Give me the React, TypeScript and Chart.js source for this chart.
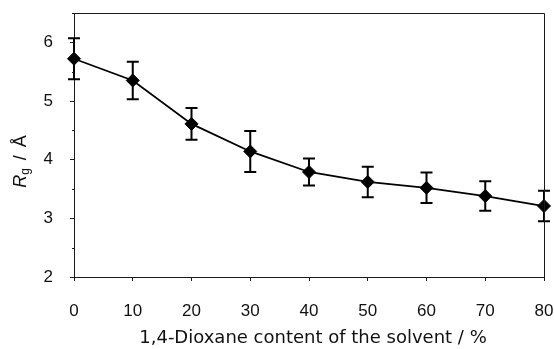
import React, { useEffect, useRef } from "react";
import { Chart, registerables } from "chart.js";

Chart.register(...registerables);

const dioxaneContent = [0, 10, 20, 30, 40, 50, 60, 70, 80];
const rgValues = [5.72, 5.35, 4.61, 4.14, 3.79, 3.62, 3.52, 3.38, 3.21];
const rgErrors = [0.35, 0.32, 0.27, 0.35, 0.23, 0.26, 0.26, 0.25, 0.26];
const xTitle = "1,4-Dioxane content of the solvent / %";
const yTitleMain = "R";
const yTitleSub = "g";
const yTitleSlash = "/";
const yTitleUnit = "Å";

const AXIS = "#1a1a1a";
const TICK_FONT = '"Liberation Sans", Arial, sans-serif';

const errorBarPlugin = {
  id: "errorBars",
  beforeDatasetsDraw(chart: any) {
    const { ctx } = chart;
    const xs = chart.scales.x;
    const ys = chart.scales.y;
    ctx.save();
    ctx.strokeStyle = "#000";
    ctx.lineWidth = 2;
    dioxaneContent.forEach((xv, i) => {
      const px = xs.getPixelForValue(xv);
      const top = ys.getPixelForValue(rgValues[i] + rgErrors[i]);
      const bot = ys.getPixelForValue(rgValues[i] - rgErrors[i]);
      ctx.beginPath();
      ctx.moveTo(px, top);
      ctx.lineTo(px, bot);
      ctx.moveTo(px - 6, top);
      ctx.lineTo(px + 6, top);
      ctx.moveTo(px - 6, bot);
      ctx.lineTo(px + 6, bot);
      ctx.stroke();
    });
    ctx.restore();
  },
};

const framePlugin = {
  id: "frameAndTitles",
  afterDraw(chart: any) {
    const { ctx, chartArea } = chart;
    const ys = chart.scales.y;
    ctx.save();
    ctx.strokeStyle = AXIS;
    ctx.lineWidth = 1;
    ctx.beginPath();
    ctx.moveTo(chartArea.left, chartArea.top + 0.5);
    ctx.lineTo(chartArea.right + 0.5, chartArea.top + 0.5);
    ctx.lineTo(chartArea.right + 0.5, chartArea.bottom);
    ctx.stroke();
    ys.ticks.forEach((t: any) => {
      if (!Number.isInteger(t.value)) {
        const py = Math.round(ys.getPixelForValue(t.value)) + 0.5;
        ctx.beginPath();
        ctx.moveTo(chartArea.left - 2, py);
        ctx.lineTo(chartArea.left, py);
        ctx.stroke();
      }
    });
    // x title
    ctx.fillStyle = "#111";
    ctx.font = '18px "DejaVu Sans", Verdana, sans-serif';
    ctx.textAlign = "center";
    ctx.textBaseline = "alphabetic";
    ctx.fillText(xTitle, 313, 343);
    // y title (rotated)
    ctx.translate(26, 161.5);
    ctx.rotate(-Math.PI / 2);
    ctx.textAlign = "left";
    const fMain = 'italic 18px "Liberation Sans", Arial, sans-serif';
    const fSub = '12px "Liberation Sans", Arial, sans-serif';
    const fRest = '18px "Liberation Sans", Arial, sans-serif';
    const gap = 8;
    ctx.font = fMain;
    const w1 = ctx.measureText(yTitleMain).width;
    ctx.font = fSub;
    const w2 = ctx.measureText(yTitleSub).width;
    ctx.font = fRest;
    const w3 = ctx.measureText(yTitleSlash).width;
    const w4 = ctx.measureText(yTitleUnit).width;
    let x0 = -(w1 + w2 + w3 + w4 + 2 * gap) / 2;
    ctx.font = fMain;
    ctx.fillText(yTitleMain, x0, 0);
    x0 += w1;
    ctx.font = fSub;
    ctx.fillText(yTitleSub, x0, 3);
    x0 += w2 + gap;
    ctx.font = fRest;
    ctx.fillText(yTitleSlash, x0, 0);
    x0 += w3 + gap;
    ctx.fillText(yTitleUnit, x0, 0);
    ctx.restore();
  },
};

const zeroPad = (s: any) => {
  s.paddingTop = 0;
  s.paddingBottom = 0;
  s.paddingLeft = 0;
  s.paddingRight = 0;
};

export default function App() {
  const ref = useRef<HTMLCanvasElement | null>(null);
  useEffect(() => {
    if (!ref.current) return;
    const chart = new Chart(ref.current, {
      type: "line",
      data: {
        datasets: [
          {
            data: dioxaneContent.map((x, i) => ({ x, y: rgValues[i] })),
            borderColor: "#000",
            backgroundColor: "#000",
            borderWidth: 1.8,
            pointStyle: "rectRot",
            pointRadius: 6.5,
            pointHoverRadius: 6.5,
            pointBorderWidth: 1,
            pointBackgroundColor: "#000",
            pointBorderColor: "#000",
            tension: 0,
            clip: false,
          },
        ],
      },
      options: {
        animation: false,
        responsive: false,
        devicePixelRatio: 1,
        layout: { autoPadding: false, padding: { top: 13, right: 10, left: 0, bottom: 0 } },
        plugins: { legend: { display: false }, tooltip: { enabled: false } },
        scales: {
          x: {
            type: "linear",
            min: 0,
            max: 80,
            afterFit: (s: any) => {
              s.height = 72;
              zeroPad(s);
            },
            ticks: {
              stepSize: 10,
              padding: 20,
              color: "#111",
              font: { family: TICK_FONT, size: 17 },
              maxRotation: 0,
            },
            grid: {
              drawOnChartArea: false,
              tickLength: 4,
              tickColor: AXIS,
            },
            border: { color: AXIS, width: 1 },
          },
          y: {
            type: "linear",
            min: 2,
            max: 6.5,
            afterFit: (s: any) => {
              s.width = 74;
              zeroPad(s);
            },
            ticks: {
              stepSize: 0.5,
              padding: 17,
              color: "#111",
              font: { family: TICK_FONT, size: 17 },
              callback: (v: any) => (Number.isInteger(v) ? String(v) : ""),
            },
            grid: {
              drawOnChartArea: false,
              tickLength: 4,
              tickColor: (c: any) =>
                c.tick && Number.isInteger(c.tick.value) ? AXIS : "rgba(0,0,0,0)",
            },
            border: { color: AXIS, width: 1 },
          },
        },
      },
      plugins: [errorBarPlugin, framePlugin],
    });
    return () => chart.destroy();
  }, []);
  return (
    <div style={{ position: "absolute", left: 0, top: 0, width: 554, height: 349 }}>
      <canvas ref={ref} width={554} height={349} />
    </div>
  );
}
